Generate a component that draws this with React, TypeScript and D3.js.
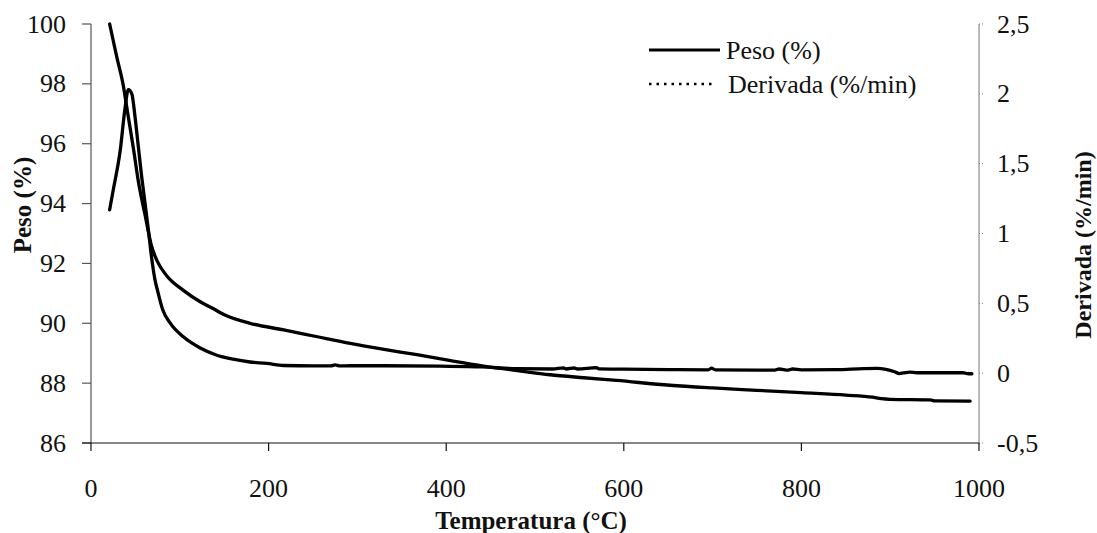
import React from "react";
import * as d3 from "d3";

const xTicks = [0, 200, 400, 600, 800, 1000];
const yLeftTicks = [86, 88, 90, 92, 94, 96, 98, 100];
const yRightTicks = [-0.5, 0, 0.5, 1, 1.5, 2, 2.5];

const pesoT = [21, 29, 36, 42, 48, 53, 61, 68, 75, 85, 104, 123, 137, 149, 179, 217, 255, 292, 330, 367, 405, 442, 480, 517, 555, 592, 652, 700, 750, 800, 850, 880, 890, 900, 945, 950, 990];
const pesoV = [100, 98.9, 98.0, 96.9, 95.8, 94.8, 93.6, 92.6, 92.05, 91.6, 91.1, 90.72, 90.5, 90.3, 90.0, 89.78, 89.55, 89.33, 89.13, 88.95, 88.75, 88.57, 88.42, 88.28, 88.18, 88.09, 87.93, 87.84, 87.76, 87.68, 87.6, 87.53, 87.48, 87.46, 87.44, 87.41, 87.4];

const derT = [21, 25, 33, 38, 42, 46, 49.5, 53, 57, 61, 64.5, 68, 72, 75, 81, 89, 104, 123, 141, 160, 179, 198, 217, 250, 270, 275, 280, 292, 330, 393, 440, 479, 520, 532, 535, 544, 548, 569, 572, 600, 650, 695, 699, 703, 750, 770, 775, 785, 790, 800, 840, 870, 885, 895, 905, 910, 915, 922, 930, 960, 982, 988, 992];
const derV = [1.17, 1.31, 1.6, 1.88, 2.03, 2.0, 1.84, 1.64, 1.41, 1.21, 1.03, 0.84, 0.67, 0.59, 0.45, 0.36, 0.26, 0.18, 0.13, 0.1, 0.08, 0.07, 0.055, 0.052, 0.052, 0.06, 0.052, 0.053, 0.053, 0.05, 0.045, 0.032, 0.03, 0.038, 0.03, 0.037, 0.03, 0.04, 0.031, 0.029, 0.026, 0.024, 0.036, 0.024, 0.022, 0.022, 0.03, 0.022, 0.03, 0.024, 0.025, 0.033, 0.034, 0.028, 0.01, -0.003, 0.002, 0.008, 0.003, 0.003, 0.003, -0.004, -0.004];

const FONT = "Liberation Serif";

export default function App() {
  const W = 1097, H = 533;
  const x = d3.scaleLinear().domain([0, 1000]).range([91, 979]);
  const yL = d3.scaleLinear().domain([86, 100]).range([443, 24]);
  const yR = d3.scaleLinear().domain([-0.5, 2.5]).range([443, 24]);

  const pesoLine = d3.line<number>().x((_, i) => x(pesoT[i])).y((d) => yL(d)).curve(d3.curveMonotoneX)(pesoV) || "";
  const derLine = d3.line<number>().x((_, i) => x(derT[i])).y((d) => yR(d)).curve(d3.curveMonotoneX)(derV) || "";

  const fmtR = (v: number) => String(v).replace(".", ",");
  const ts = { fontFamily: FONT };

  return (
    <svg width={W} height={H} style={{ position: "absolute", left: 0, top: 0, background: "#fff" }}>
      <rect width={W} height={H} fill="#fff" />
      {/* left axis */}
      <line x1={x(0)} x2={x(0)} y1={yL(100)} y2={yL(86)} stroke="#555" strokeWidth={1.2} />
      {yLeftTicks.map((t) => (
        <g key={"l" + t}>
          <line x1={x(0) - 9} x2={x(0)} y1={yL(t)} y2={yL(t)} stroke="#555" strokeWidth={1.2} />
          <text style={ts} x={66} y={yL(t)} textAnchor="end" dominantBaseline="central" fontSize={26} fill="#111">{t}</text>
        </g>
      ))}
      {/* right axis */}
      <line x1={x(1000)} x2={x(1000)} y1={yR(2.5)} y2={yR(-0.5)} stroke="#777" strokeWidth={1} />
      {yRightTicks.map((t) => (
        <g key={"r" + t}>
          <line x1={x(1000)} x2={x(1000) + 5} y1={yR(t)} y2={yR(t)} stroke="#777" strokeWidth={1} strokeDasharray="1,2" />
          <text style={ts} x={997} y={yR(t)} textAnchor="start" dominantBaseline="central" fontSize={26} fill="#111">{fmtR(t)}</text>
        </g>
      ))}
      {/* x axis */}
      <line x1={x(0) - 9} x2={x(1000)} y1={yL(86)} y2={yL(86)} stroke="#111" strokeWidth={1.2} />
      {xTicks.map((t) => (
        <g key={"x" + t}>
          <line x1={x(t)} x2={x(t)} y1={yL(86)} y2={yL(86) + 8} stroke="#111" strokeWidth={1.2} />
          <text style={ts} x={x(t)} y={488} textAnchor="middle" dominantBaseline="central" fontSize={26} fill="#111">{t}</text>
        </g>
      ))}
      {/* axis titles */}
      <text style={ts} x={531} y={520} textAnchor="middle" dominantBaseline="central" fontSize={25} fontWeight="bold" fill="#111">Temperatura (°C)</text>
      <text style={ts} transform="translate(22,205) rotate(-90)" textAnchor="middle" dominantBaseline="central" fontSize={25} fontWeight="bold" fill="#111">Peso (%)</text>
      <text style={ts} transform="translate(1083,245) rotate(-90)" textAnchor="middle" dominantBaseline="central" fontSize={24} fontWeight="bold" fill="#111">Derivada (%/min)</text>
      {/* data lines */}
      <path d={pesoLine} fill="none" stroke="#000" strokeWidth={3.3} strokeLinejoin="round" strokeLinecap="round" />
      <path d={derLine} fill="none" stroke="#000" strokeWidth={3.3} strokeLinejoin="round" strokeLinecap="round" />
      {/* legend */}
      <line x1={649} x2={720} y1={50} y2={50} stroke="#000" strokeWidth={3} />
      <text style={ts} x={726} y={50} dominantBaseline="central" fontSize={26} fill="#111">Peso (%)</text>
      <line x1={649} x2={714} y1={84} y2={84} stroke="#000" strokeWidth={2.5} strokeDasharray="2.5,5" />
      <text style={ts} x={728} y={84} dominantBaseline="central" fontSize={26} fill="#111">Derivada (%/min)</text>
    </svg>
  );
}
